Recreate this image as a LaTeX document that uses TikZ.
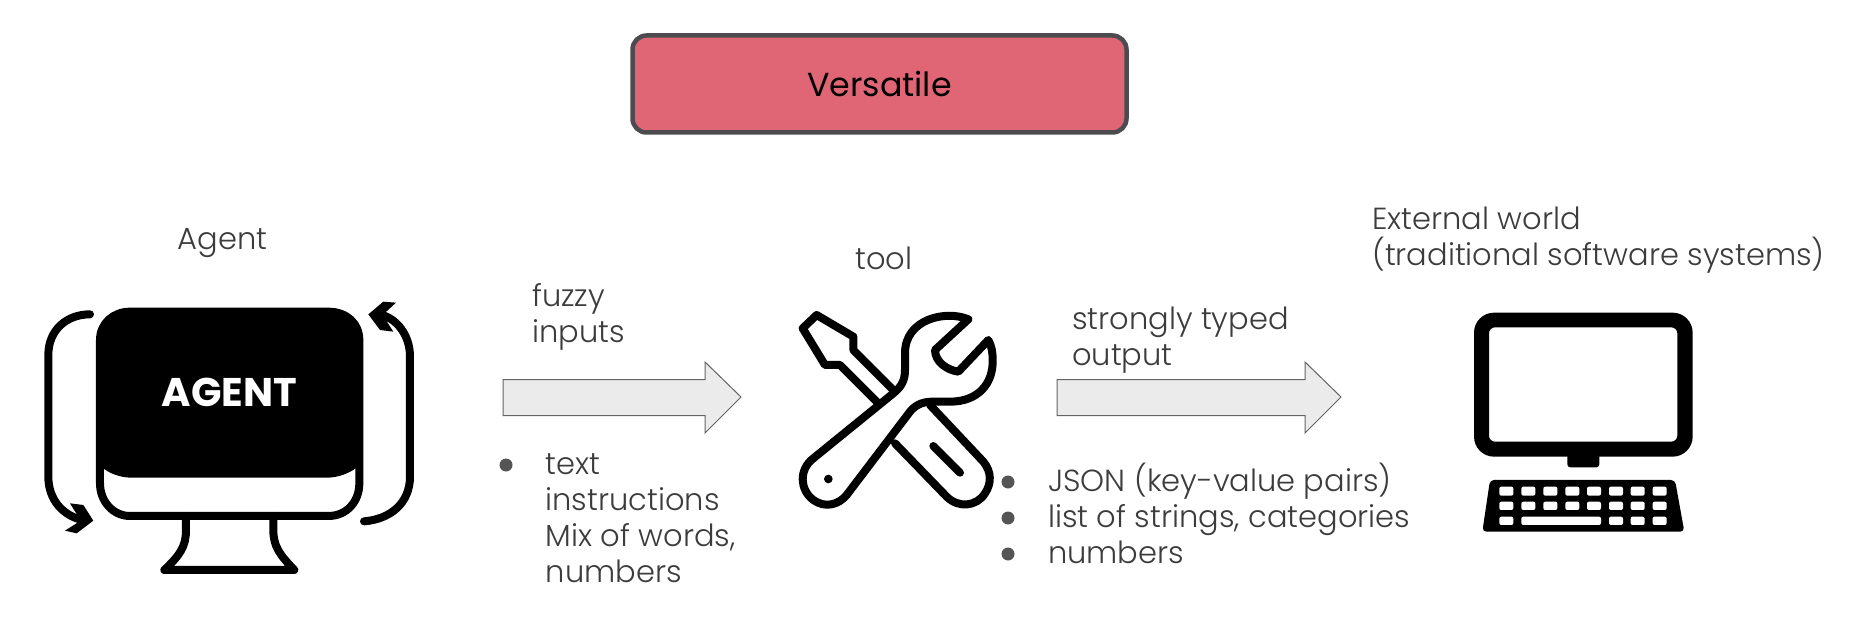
\documentclass[tikz,border=0pt]{standalone}
\usepackage{fontspec}
\setmainfont{Poppins}[UprightFont=* Light,BoldFont=* Bold]
\newfontfamily\regularfont{Poppins}
\begin{document}
\begin{tikzpicture}[x=1pt,y=-1pt]

    \tikzset{
      label/.style={
        anchor=west,
        align=left,
        inner sep=0pt,
        text={rgb,255:red,60;green,60;blue,60},
        font=\fontsize{30.5}{36}\selectfont,
      },
      dot/.style={
        circle,
        fill={rgb,255:red,85;green,85;blue,85},
        inner sep=0pt,
        minimum size=13pt,
      },
      blockarrow/.style={
        fill={rgb,255:red,235;green,235;blue,235},
        draw={rgb,255:red,100;green,100;blue,100},
        line width=1pt,
      },
      icon/.style={
        draw=black,
        line width=8pt,
        line join=round,
        line cap=round,
      },
      keycap/.style={
        fill=white,
        rounded corners=2pt,
      },
      zoomed/.style={
        x=0.33333pt,
        y=-0.33333pt,
      },
    }
    \useasboundingbox (0,0) rectangle (1856,639);
	\fill[white] (0,0) rectangle (1856,639);

	% top box
	\node[draw={rgb,255:red,76;green,76;blue,80},fill={rgb,255:red,224;green,102;blue,117},line width=4.5pt,rounded corners=14pt,minimum width=494pt,minimum height=97pt,inner sep=0pt,text=black,font=\regularfont\fontsize{33.3}{36}\selectfont] (versatile) at (879.5,84) {Versatile};

	% labels
	\node[label,anchor=center] (agentlabel) at (222.5,243) {Agent};
	\node[label,anchor=center] (toollabel) at (884,258) {tool};
	\node[label] (worldlabel) at (1372,240) {External world\\(traditional software systems)};
	\node[label] (fuzzylabel) at (532,317) {fuzzy\\inputs};
	\node[label] (stronglabel) at (1072,340) {strongly typed\\output};

	% block arrows
	\draw[blockarrow] (503,379.5)--(705,379.5)--(705,362)--(741,397)--(705,433)--(705,415.5)--(503,415.5)--cycle;
	\draw[blockarrow] (1057,379.5)--(1305,379.5)--(1305,362)--(1341,397)--(1305,433)--(1305,415.5)--(1057,415.5)--cycle;

	% left list
	\node[dot] (leftdot) at (506,465) {};
	\node[label] (lefttext) at (545.5,518) {text\\instructions\\Mix of words,\\numbers};

	% right list
	\node[dot] (rightdota) at (1008,482) {};
	\node[dot] (rightdotb) at (1008,518) {};
	\node[dot] (rightdotc) at (1008,554) {};
	\node[label] (righttext) at (1048,513.5) {JSON (key-value pairs)\\list of strings, categories\\numbers};

	% agent monitor
	\begin{scope}[shift={(20,280)},zoomed]
	\fill[black] (240,557) .. controls (265,580) and (300,593) .. (335,593) -- (920,593) .. controls (955,593) and (990,580) .. (1018,557) -- (1018,180) .. controls (1018,130) and (980,95) .. (925,95) -- (330,95) .. controls (280,95) and (240,130) .. (240,180) -- cycle;
	\draw[icon] (240,180) .. controls (240,130) and (280,95) .. (330,95) -- (925,95) .. controls (980,95) and (1018,130) .. (1018,180) -- (1018,610) .. controls (1018,665) and (980,708) .. (925,708) -- (330,708) .. controls (280,708) and (240,665) .. (240,610) -- cycle;
	\draw[icon] (498,708) -- (498,750) .. controls (498,800) and (480,825) .. (433,870) -- (823,870) .. controls (780,825) and (760,800) .. (760,750) -- (760,708);
	\draw[icon] (210,103) .. controls (140,103) and (85,150) .. (85,225) -- (85,590) .. controls (85,660) and (130,710) .. (195,722);
	\draw[icon] (1032,724) .. controls (1110,718) and (1170,670) .. (1170,590) -- (1170,230) .. controls (1170,165) and (1130,115) .. (1080,103);
	\fill[black] (150,670) -- (190,675) -- (220,722) -- (170,760) -- (135,752) -- (182,722) -- cycle;
	\fill[black] (1128,68) -- (1090,65) -- (1045,103) -- (1080,150) -- (1120,155) -- (1088,105) -- cycle;
	\node[text=white,inner sep=0pt,font=\fontsize{40}{42}\selectfont\bfseries] (agenttext) at (628,337) {AGENT};
	\end{scope}

	% tool icon
	\begin{scope}[shift={(770,290)},zoomed]
	\draw[icon] (370,300) -- (250,180) -- (250,140) -- (140,75) -- (98,115) -- (165,225) -- (210,225) -- (320,335);
	\draw[icon] (375,460) -- (530,620) .. controls (565,655) and (620,650) .. (645,610) .. controls (665,580) and (665,545) .. (640,515) -- (480,345);
	\draw[icon] (490,468) -- (570,548);
	\draw[icon] (595,88) .. controls (530,60) and (405,85) .. (405,190) -- (405,240) .. controls (405,270) and (395,290) .. (370,310) -- (130,505) .. controls (85,540) and (90,600) .. (130,630) .. controls (165,655) and (205,645) .. (230,615) -- (420,365) .. controls (440,340) and (465,335) .. (490,335) -- (540,335) .. controls (625,335) and (670,280) .. (668,210) .. controls (668,185) and (665,170) .. (655,150) -- (565,245) .. controls (530,240) and (495,215) .. (495,180) -- cycle;
	\fill[black] (175,567) circle[radius=13];
	\end{scope}

	% computer icon
	\begin{scope}[shift={(1450,290)},zoomed]
	\fill[black,rounded corners=20pt,even odd rule] (72,68) rectangle (728,500) [rounded corners=6pt] (117,112) rectangle (682,455);
	\fill[black,rounded corners=3pt] (352,490) rectangle (448,532);
	\fill[black,rounded corners=4pt] (120,570) -- (675,570) -- (703,725) -- (97,725) -- cycle;
	\fill[keycap] (148,590) rectangle (190,617);
	\fill[keycap] (214,590) rectangle (256,617);
	\fill[keycap] (280,590) rectangle (322,617);
	\fill[keycap] (346,590) rectangle (388,617);
	\fill[keycap] (411,590) rectangle (453,617);
	\fill[keycap] (477,590) rectangle (519,617);
	\fill[keycap] (542,590) rectangle (584,617);
	\fill[keycap] (608,590) rectangle (650,617);
	\fill[keycap] (148,635) rectangle (190,660);
	\fill[keycap] (214,635) rectangle (256,660);
	\fill[keycap] (280,635) rectangle (322,660);
	\fill[keycap] (346,635) rectangle (388,660);
	\fill[keycap] (411,635) rectangle (453,660);
	\fill[keycap] (477,635) rectangle (519,660);
	\fill[keycap] (542,635) rectangle (584,660);
	\fill[keycap] (608,635) rectangle (650,660);
	\fill[keycap] (148,680) rectangle (190,705);
	\fill[keycap] (214,680) rectangle (453,705);
	\fill[keycap] (477,680) rectangle (519,705);
	\fill[keycap] (542,680) rectangle (584,705);
	\fill[keycap] (608,680) rectangle (650,705);
	\end{scope}

\end{tikzpicture}
\end{document}
